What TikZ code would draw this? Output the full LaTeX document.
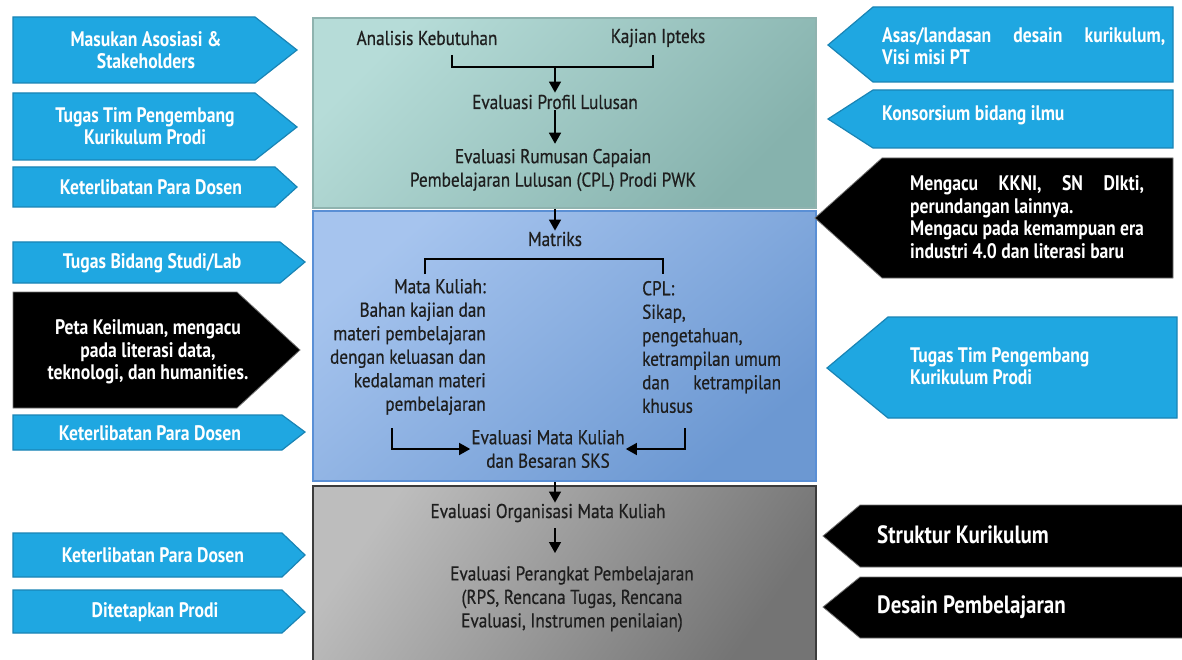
\documentclass[tikz,border=0pt]{standalone}
\usepackage{fontspec}
\setmainfont{PT Sans}
\newfontfamily\wf[FakeStretch=0.84]{PT Sans}
\newfontfamily\cf[FakeStretch=0.86,FakeBold=0.6]{PT Sans}
\usetikzlibrary{arrows.meta}
\definecolor{ablue}{HTML}{1FA7E1}
\definecolor{abluedark}{HTML}{1984B5}
\definecolor{ctxt}{HTML}{1E1E1E}
\definecolor{tealL}{HTML}{B6DCD8}
\definecolor{tealD}{HTML}{86B2AD}
\definecolor{tealB}{HTML}{8FB3AF}
\definecolor{blueL}{HTML}{A6C4EE}
\definecolor{blueD}{HTML}{6C98D2}
\definecolor{blueB}{HTML}{5A8FD5}
\definecolor{grayL}{HTML}{BDBDBD}
\definecolor{grayD}{HTML}{747474}
\definecolor{grayB}{HTML}{3C3C3C}
\tikzset{
  barrow/.style={fill=ablue, draw=abluedark, line width=1.2pt, line join=miter},
  karrow/.style={fill=black, draw=black!55, line width=0.8pt, line join=miter},
  wtext/.style={text=white, font=\wf\bfseries\fontsize{21}{22.5}\selectfont, align=center, inner sep=0pt},
  wtextl/.style={wtext, align=left},
  bigw/.style={wtextl, font=\wf\bfseries\fontsize{25}{27}\selectfont},
  ctext/.style={text=ctxt, font=\cf\fontsize{20}{23.5}\selectfont, align=center, inner sep=1pt},
  link/.style={line width=1.5pt, draw=black},
  flow/.style={link, -{Triangle[length=11pt,width=12pt]}},
  bigbox/.style={anchor=north west, minimum width=503pt, line width=2pt, inner sep=0pt},
}
\begin{document}
\begin{tikzpicture}[x=1pt,y=-1pt]
\useasboundingbox (0,0) rectangle (1182,660);
\fill[white] (0,0) rectangle (1182,660);

% ---------- central boxes ----------
\node[bigbox, minimum height=190pt, draw=tealB, top color=tealL, middle color=tealL, bottom color=tealD, shading angle=45] (tb) at (312,17) {};
\node[bigbox, minimum height=270pt, draw=blueB, top color=blueL, middle color=blueL!80!blueD, bottom color=blueD, shading angle=40] (bb) at (312,210) {};
\node[bigbox, minimum height=180pt, draw=grayB, top color=grayL, middle color=grayL!85!grayD, bottom color=grayD, shading angle=55] (gb) at (312,485) {};

% ---------- top box content ----------
\node[ctext] (ak) at (427,38) {Analisis Kebutuhan};
\node[ctext] (ki) at (658,38) {Kajian Ipteks};
\node[ctext] (epl) at (555,102) {Evaluasi Profil Lulusan};
\node[ctext] (cpl) at (553,170) {Evaluasi Rumusan Capaian\\Pembelajaran Lulusan (CPL) Prodi PWK};
\coordinate (akb) at (452,55);
\coordinate (kib) at (653,55);
\coordinate (brk) at (555,67);
\draw[link] (akb) -- (akb |- brk) -- (kib |- brk) -- (kib);
\draw[flow, shorten >=1pt] (brk) -- (epl.north);
\draw[flow, shorten >=4pt] (epl.south) -- (epl.south |- cpl.north);

% ---------- blue box content ----------
\node[ctext] (mat) at (555,239) {Matriks};
\draw[flow] (tb.south -| mat) -- (mat.north);
\coordinate (mkl) at (425,274);
\coordinate (cpr) at (663,274);
\coordinate (mtop) at (0,259);
\draw[link] (mkl) -- (mkl |- mtop) -- (cpr |- mtop) -- (cpr);
\node[ctext, align=right, anchor=east] (mk) at (487,347) {Mata Kuliah:\\Bahan kajian dan\\materi pembelajaran\\dengan keluasan dan\\kedalaman materi\\pembelajaran};
\node[ctext, align=left, anchor=west] (cp) at (641,347) {CPL:\\Sikap,\\pengetahuan,\\ketrampilan umum\\{\setbox0\hbox{ketrampilan umum}\makebox[\wd0][s]{dan ketrampilan}}\\khusus};
\node[ctext] (emk) at (548,449) {Evaluasi Mata Kuliah\\dan Besaran SKS};
\coordinate (lbs) at (392,428);
\coordinate (rbs) at (685,428);
\draw[flow] (lbs) |- (emk.west);
\draw[flow] (rbs) |- (emk.east);

% ---------- gray box content ----------
\coordinate (ax) at (555,0);
\node[ctext] (eo) at (548,513) {Evaluasi Organisasi Mata Kuliah};
\draw[flow] (bb.south -| ax) -- (eo.north -| ax);
\node[ctext] (ep) at (572,599) {Evaluasi Perangkat Pembelajaran\\(RPS, Rencana Tugas, Rencana\\Evaluasi, Instrumen penilaian)};
\draw[flow, shorten <=5pt, shorten >=12pt] (eo.south -| ax) -- (ep.north -| ax);

% ---------- left arrows ----------
\path[barrow] (13,17) -- (255,17) -- (297,50) -- (255,83) -- (13,83) -- cycle;
\node[wtext] (l1) at (146,50) {Masukan Asosiasi \&\\Stakeholders};
\path[barrow] (13,93) -- (255,93) -- (297,127) -- (255,160) -- (13,160) -- cycle;
\node[wtext] (l2) at (145,126) {Tugas Tim Pengembang\\Kurikulum Prodi};
\path[barrow] (13,167) -- (275,167) -- (297,187) -- (275,207) -- (13,207) -- cycle;
\node[wtext] (l3) at (151,187) {Keterlibatan Para Dosen};
\path[barrow] (13,242) -- (280,242) -- (305,262) -- (280,283) -- (13,283) -- cycle;
\node[wtext] (l4) at (152,263) {Tugas Bidang Studi/Lab};
\path[karrow] (13,292) -- (237,292) -- (300,350) -- (237,408) -- (13,408) -- cycle;
\node[wtext] (l5) at (148,352) {Peta Keilmuan, mengacu\\pada literasi data,\\teknologi, dan humanities.};
\path[barrow] (13,415) -- (282,415) -- (305,432) -- (282,450) -- (13,450) -- cycle;
\node[wtext] (l6) at (150,433) {Keterlibatan Para Dosen};
\path[barrow] (13,533) -- (282,533) -- (305,555) -- (282,577) -- (13,577) -- cycle;
\node[wtext] (l7) at (153,555) {Keterlibatan Para Dosen};
\path[barrow] (13,590) -- (282,590) -- (305,612) -- (282,633) -- (13,633) -- cycle;
\node[wtext] (l8) at (155,612) {Ditetapkan Prodi};

% ---------- right arrows ----------
\path[barrow] (828,45) -- (873,7) -- (1173,7) -- (1173,82) -- (873,82) -- cycle;
\node[wtextl, anchor=west] (r1) at (882,46) {\makebox[283pt][s]{Asas/landasan desain kurikulum,}\\Visi misi PT};
\path[barrow] (828,119) -- (873,90) -- (1173,90) -- (1173,148) -- (873,148) -- cycle;
\node[wtextl, anchor=west] (r2) at (882,115) {Konsorsium bidang ilmu};
\path[karrow] (815,218) -- (882,158) -- (1173,158) -- (1173,278) -- (882,278) -- cycle;
\node[wtextl, anchor=west] (r3) at (910,217) {{\setbox0\hbox{Mengacu pada kemampuan era}\makebox[\wd0][s]{Mengacu KKNI, SN DIkti,}}\\perundangan lainnya.\\Mengacu pada kemampuan era\\industri 4.0 dan literasi baru};
\path[barrow] (827,368) -- (888,317) -- (1177,317) -- (1177,418) -- (888,418) -- cycle;
\node[wtextl, anchor=west] (r4) at (910,366) {Tugas Tim Pengembang\\Kurikulum Prodi};
\path[karrow] (823,536) -- (860,505) -- (1186,505) -- (1186,567) -- (860,567) -- cycle;
\node[bigw, anchor=west] (r5) at (877,535) {Struktur Kurikulum};
\path[karrow] (823,607) -- (860,577) -- (1186,577) -- (1186,638) -- (860,638) -- cycle;
\node[bigw, anchor=west] (r6) at (877,607) {Desain Pembelajaran};
\end{tikzpicture}
\end{document}
